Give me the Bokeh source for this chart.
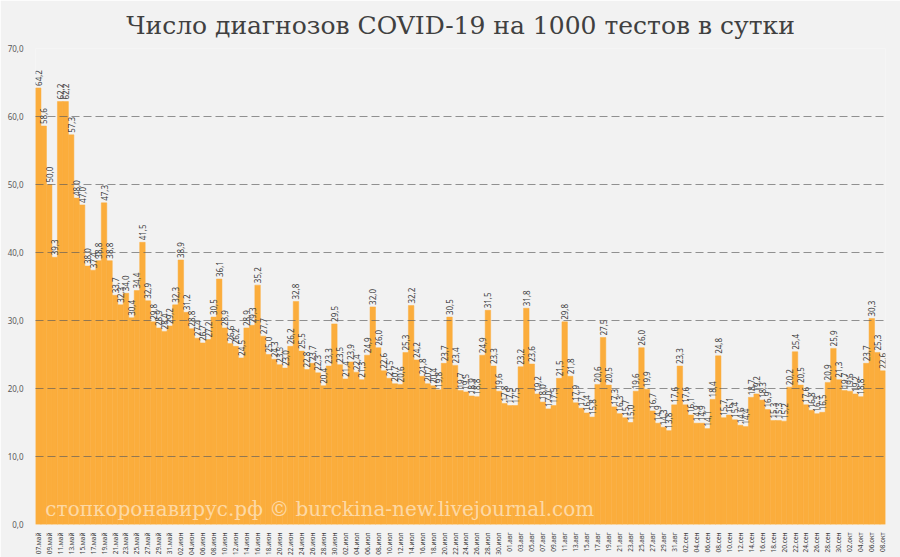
import math
import datetime
from bokeh.plotting import figure
from bokeh.models import ColumnDataSource, FixedTicker, Label, Range1d
from bokeh.core.properties import value
from bokeh.embed import file_html
from bokeh.resources import INLINE

# Daily COVID-19 diagnoses per 1000 tests, 07 May .. 08 Oct
rates = [
    64.2, 58.6, 50.0, 39.3, 62.2, 62.2, 57.3, 48.0, 47.0, 38.0,
    37.4, 38.8, 47.3, 38.8, 33.7, 32.3, 34.0, 30.4, 34.4, 41.5,
    32.9, 29.8, 28.9, 28.4, 29.2, 32.3, 38.9, 31.2, 28.8, 27.4,
    26.7, 27.2, 30.5, 36.1, 28.9, 26.6, 26.2, 24.5, 28.9, 29.3,
    35.2, 27.7, 25.0, 24.3, 23.5, 23.0, 26.2, 32.8, 25.5, 22.8,
    23.7, 22.3, 20.4, 23.3, 29.5, 23.5, 21.4, 23.9, 22.4, 21.3,
    24.9, 32.0, 26.0, 22.6, 21.5, 20.7, 20.6, 25.3, 32.2, 24.2,
    21.8, 20.7, 20.4, 19.8, 23.7, 30.5, 23.4, 19.7, 19.5, 18.9,
    18.8, 24.9, 31.5, 23.3, 19.6, 17.8, 17.5, 17.5, 23.2, 31.8,
    23.6, 19.2, 18.0, 17.0, 17.5, 21.5, 29.8, 21.8, 17.9, 17.1,
    16.4, 15.8, 20.6, 27.5, 20.5, 17.3, 16.3, 15.7, 15.0, 19.6,
    26.0, 19.9, 16.7, 14.9, 14.3, 13.8, 17.6, 23.3, 17.6, 16.1,
    14.9, 14.9, 14.1, 18.4, 24.8, 15.7, 16.1, 15.4, 14.6, 14.4,
    18.7, 19.2, 18.3, 16.9, 15.3, 15.3, 15.2, 20.2, 25.4, 20.5,
    17.6, 16.8, 16.3, 16.5, 20.9, 25.9, 21.3, 19.7, 19.6, 19.2,
    18.8, 23.7, 30.3, 25.3, 22.6,
]

month_names = ["янв", "фев", "мар", "апр", "май", "июн",
               "июл", "авг", "сен", "окт", "ноя", "дек"]
start_date = datetime.date(2020, 5, 7)
day_labels = []
for i in range(len(rates)):
    d = start_date + datetime.timedelta(days=i)
    day_labels.append(f"{d.day:02d}.{month_names[d.month - 1]}")

y_ticks = [0, 10, 20, 30, 40, 50, 60, 70]
y_tick_labels = ["0,0", "10,0", "20,0", "30,0", "40,0", "50,0", "60,0", "70,0"]

title_text = "Число диагнозов COVID-19 на 1000 тестов в сутки"
watermark = "стопкоронавирус.рф © burckina-new.livejournal.com"

n = len(rates)
xs = list(range(n))
src = ColumnDataSource(dict(
    x=xs,
    v=rates,
    lbl=[f"{v:.1f}".replace(".", ",") for v in rates],
))

BG = "#F2F2F2"
BAR = "#FBAD3C"

p = figure(width=900, height=557,
           x_range=Range1d(-0.5, n - 0.5), y_range=Range1d(0, 70),
           output_backend="svg", toolbar_location=None,
           min_border_left=35, min_border_right=15,
           min_border_top=47, min_border_bottom=32)
p.background_fill_color = BG
p.border_fill_color = BG
p.outline_line_color = None

p.title.text = title_text
p.title.align = "center"
p.title.text_font = "DejaVu Serif"
p.title.text_font_style = "normal"
p.title.text_font_size = "25px"
p.title.text_color = "#404040"
p.title.standoff = 17

p.vbar(x="x", top="v", width=1.0, source=src,
       fill_color=BAR, line_color=BAR, line_width=0.5)

p.text(x="x", y="v", text="lbl", source=src, angle=math.pi / 2,
       text_align="left", text_baseline="middle", y_offset=-2,
       text_font=value("Noto Sans"), text_font_size="8px",
       text_color="#404040")

p.add_layout(Label(x=1.3, y=0.5, text=watermark,
                   text_font="DejaVu Serif", text_font_size="20px",
                   text_color="white", text_alpha=0.55))

# grid
p.xgrid.grid_line_color = None
p.ygrid.ticker = FixedTicker(ticks=y_ticks)
p.ygrid.grid_line_color = "#5A5A5A"
p.ygrid.grid_line_alpha = 0.65
p.ygrid.grid_line_dash = "8 4"
p.ygrid.grid_line_width = 1
p.ygrid.level = "overlay"

# axes
p.yaxis.ticker = FixedTicker(ticks=y_ticks)
p.yaxis.major_label_overrides = {t: s for t, s in zip(y_ticks, y_tick_labels)}
p.yaxis.axis_line_color = None
p.yaxis.major_tick_line_color = None
p.yaxis.minor_tick_line_color = None
p.yaxis.major_label_text_font = "Noto Sans"
p.yaxis.major_label_text_font_size = "8px"
p.yaxis.major_label_text_color = "#595959"
p.yaxis.major_label_standoff = 6

x_ticks = list(range(0, n, 2))
p.xaxis.ticker = FixedTicker(ticks=x_ticks)
p.xaxis.major_label_overrides = {i: day_labels[i] for i in x_ticks}
p.xaxis.major_label_orientation = math.pi / 2
p.xaxis.axis_line_color = None
p.xaxis.major_tick_line_color = None
p.xaxis.minor_tick_line_color = None
p.xaxis.major_label_text_font = "Noto Sans"
p.xaxis.major_label_text_font_size = "6.5px"
p.xaxis.major_label_text_color = "#404040"
p.xaxis.major_label_standoff = 2

open("out.html", "w").write(file_html(p, INLINE))
